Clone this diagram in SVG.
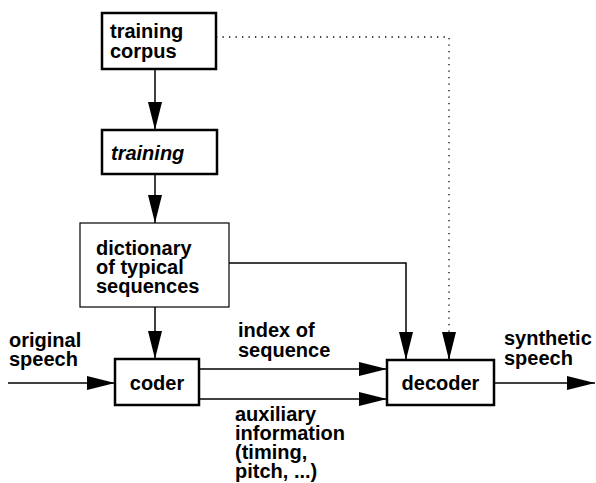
<svg xmlns="http://www.w3.org/2000/svg" width="596" height="483" viewBox="0 0 596 483">
<style>
text{font-family:"Liberation Sans",Arial,sans-serif;font-weight:bold;font-size:20px;fill:#000}
.box{fill:#fff;stroke:#000;stroke-width:2.5}
.thin{fill:#fff;stroke:#000;stroke-width:1.2}
.ln{fill:none;stroke:#000;stroke-width:1.5}
.dot{fill:none;stroke:#000;stroke-width:1.3;stroke-dasharray:1.3 5.2}
</style>
<defs>
<marker id="ah" markerUnits="userSpaceOnUse" markerWidth="28" markerHeight="16" viewBox="0 0 28 16" refX="28" refY="8" orient="auto">
<path d="M0,1 L28,8 L0,15 Z" fill="#000"/>
</marker>
</defs>
<g id="connectors">
<line class="ln" x1="155" y1="69" x2="155" y2="130" marker-end="url(#ah)"/>
<line class="ln" x1="155" y1="174" x2="155" y2="223" marker-end="url(#ah)"/>
<line class="ln" x1="155" y1="307" x2="155" y2="359" marker-end="url(#ah)"/>
<polyline class="ln" points="229,263 406,263 406,360" marker-end="url(#ah)"/>
<polyline class="dot" points="216,37 449,37 449,360"/>
<line class="ln" x1="449" y1="332" x2="449" y2="360" marker-end="url(#ah)"/>
<line class="ln" x1="8" y1="383" x2="115" y2="383" marker-end="url(#ah)"/>
<line class="ln" x1="199" y1="369" x2="387" y2="369" marker-end="url(#ah)"/>
<line class="ln" x1="199" y1="399" x2="387" y2="399" marker-end="url(#ah)"/>
<line class="ln" x1="494" y1="383" x2="595" y2="383" marker-end="url(#ah)"/>
</g>
<g id="training-corpus">
<rect class="box" x="102" y="13" width="114" height="56"/>
<text x="110" y="38">training</text>
<text x="110" y="58">corpus</text>
</g>
<g id="training">
<rect class="box" x="102" y="130" width="115" height="44"/>
<text x="111" y="160" font-style="italic">training</text>
</g>
<g id="dictionary">
<rect class="thin" x="80" y="223" width="149" height="84"/>
<text x="96" y="255">dictionary</text>
<text x="96" y="274">of typical</text>
<text x="96" y="293">sequences</text>
</g>
<g id="coder">
<rect class="box" x="115" y="359" width="84" height="46"/>
<text x="157" y="390" text-anchor="middle">coder</text>
</g>
<g id="decoder">
<rect class="box" x="387" y="360" width="107" height="45" stroke-width="3"/>
<text x="440.5" y="390" text-anchor="middle">decoder</text>
</g>
<g id="labels">
<text x="9" y="347">original</text>
<text x="9" y="366">speech</text>
<text x="238" y="337">index of</text>
<text x="238" y="357">sequence</text>
<text x="235" y="421">auxiliary</text>
<text x="235" y="440">information</text>
<text x="235" y="459">(timing,</text>
<text x="235" y="478">pitch, ...)</text>
<text x="504" y="345">synthetic</text>
<text x="504" y="365">speech</text>
</g>
</svg>
